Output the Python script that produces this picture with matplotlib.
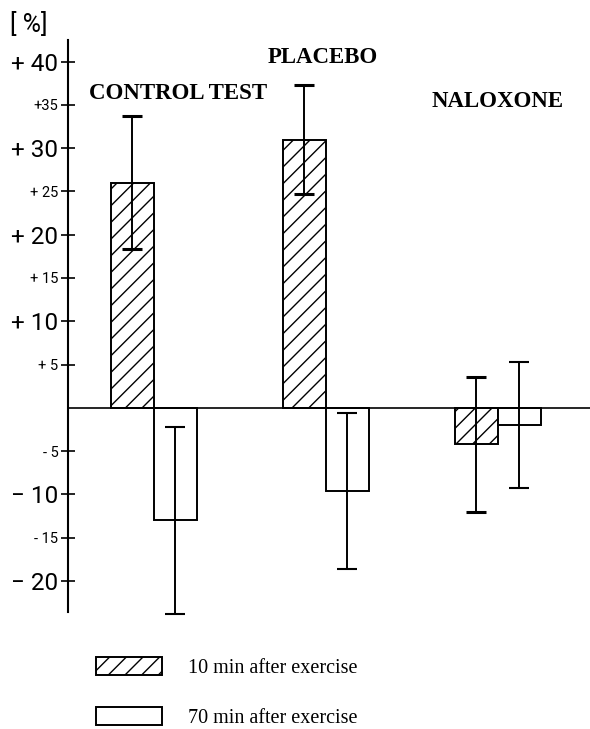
import numpy as np
import matplotlib.pyplot as plt

groups = ['CONTROL TEST', 'PLACEBO', 'NALOXONE']
after10 = [26.0, 31.0, -4.2]
err10 = [7.7, 6.3, 7.8]
after70 = [-13.0, -9.6, -2.0]
err70 = [10.8, 9.0, 7.3]

tick_vals = [40, 35, 30, 25, 20, 15, 10, 5, -5, -10, -15, -20]
tick_text = ['+ 40', '+35', '+ 30', '+ 25', '+ 20', '+ 15', '+ 10', '+ 5',
             '- 5', '\u2212 10', '- 15', '\u2212 20']
big_ticks = [40, 30, 20, 10, -10, -20]

label_pos = [(0.14, 36.3), (0.98, 40.5), (2.0, 35.4)]


def main():
    plt.rcParams['hatch.linewidth'] = 1.0
    fig = plt.figure(figsize=(5.9, 7.29), dpi=100)
    ax = fig.add_axes([68 / 590, 1 - 612 / 729, 1 - 68 / 590, (612 - 40) / 729])

    x = np.arange(len(groups))
    w = 0.25
    ax.bar(x - w / 2, after10, w, facecolor='white', edgecolor='black',
           hatch='//', lw=1.4, label='10 min after exercise')
    ax.bar(x + w / 2, after70, w, facecolor='white', edgecolor='black',
           lw=1.4, label='70 min after exercise')
    eb1 = ax.errorbar(x - w / 2, after10, yerr=err10, fmt='none', ecolor='black',
                      elinewidth=1.4, capsize=7, capthick=2.2)
    eb2 = ax.errorbar(x + w / 2, after70, yerr=err70, fmt='none', ecolor='black',
                      elinewidth=1.4, capsize=7, capthick=1.5)
    for eb in (eb1, eb2):
        for art in eb.get_children():
            art.set_clip_on(False)

    ax.axhline(0, color='black', lw=1.2)
    ax.set_xlim(-0.5, 2.535)
    ax.set_ylim(-23.6, 42.5)

    for s in ['top', 'right', 'bottom']:
        ax.spines[s].set_visible(False)
    ax.spines['left'].set_linewidth(1.5)
    ax.set_xticks([])
    ax.set_yticks(tick_vals)
    ax.set_yticklabels(tick_text, family='Roboto')
    ax.tick_params(axis='y', direction='inout', length=10, width=1.2, pad=2)
    for v, t in zip(tick_vals, ax.get_yticklabels()):
        if v in big_ticks:
            t.set_fontsize(17.5)
        else:
            t.set_fontsize(10.5)

    for g, (gx, gy) in zip(groups, label_pos):
        ax.text(gx, gy, g, ha='center', va='center', fontsize=16.5,
                fontweight='bold', family='Liberation Serif')

    fig.text(10 / 590, 1 - 25 / 729, '[ %]', fontsize=18, va='center',
             family='Roboto')

    fig.legend(loc='upper left', bbox_to_anchor=(96 / 590, 1 - 657 / 729),
               frameon=False, handlelength=3.3, handleheight=1.0,
               handletextpad=1.25, labelspacing=1.45, borderpad=0,
               borderaxespad=0, prop={'family': 'Liberation Serif', 'size': 14.5})

    fig.savefig('out.png', dpi=100)


if __name__ == "__main__":
    main()
